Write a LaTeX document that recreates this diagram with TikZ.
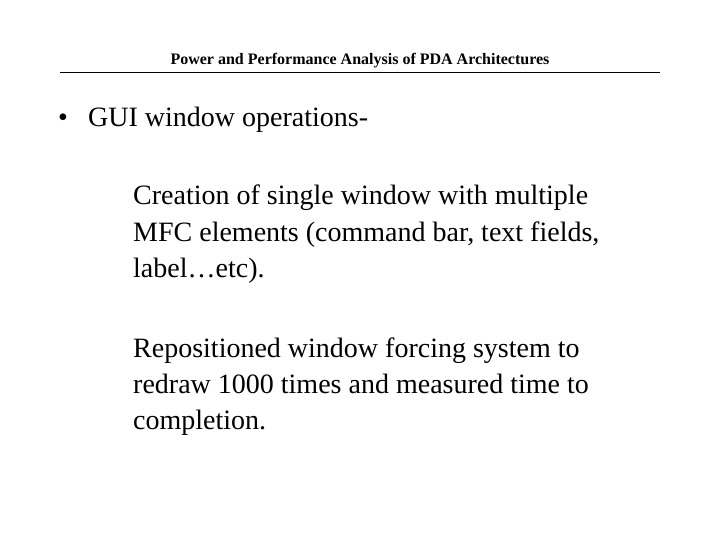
\documentclass[tikz,border=0pt]{standalone}
\usepackage{fontspec}
\setmainfont{Liberation Serif}
\begin{document}
\begin{tikzpicture}[x=1pt,y=1pt,
  txt/.style={anchor=base west,inner sep=0pt,font=\fontsize{28}{32}\selectfont}]
\useasboundingbox (0,0) rectangle (720,-540);
\node[anchor=base,inner sep=0pt,font=\bfseries\fontsize{16}{18}\selectfont] (title) at (360,-65) {Power and Performance Analysis of PDA Architectures};
\coordinate (l1) at (60,-72); \coordinate (l2) at (660,-72);
\draw[line width=0.8pt] (l1) -- (l2);
\node[txt] (bul) at (58,-127) {•};
\node[txt] (b1) at (88,-127) {GUI window operations-};
\node[txt] (p1) at (133,-205) {Creation of single window with multiple};
\node[txt] (p2) at (133,-241) {MFC elements (command bar, text fields,};
\node[txt] (p3) at (133,-277) {label…etc).};
\node[txt] (q1) at (133,-357) {Repositioned window forcing system to};
\node[txt] (q2) at (133,-393) {redraw 1000 times and measured time to};
\node[txt] (q3) at (133,-429) {completion.};
\end{tikzpicture}
\end{document}
